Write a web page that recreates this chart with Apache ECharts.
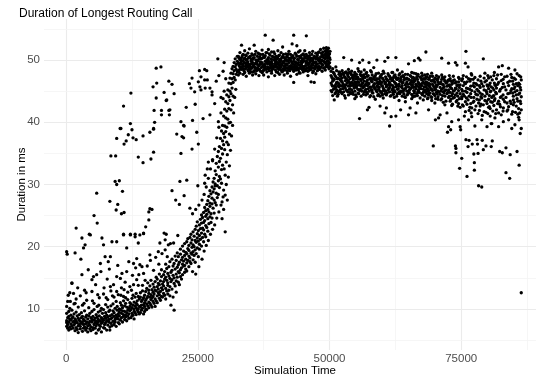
<!DOCTYPE html>
<html><head><meta charset="utf-8">
<script src="https://cdn.jsdelivr.net/npm/echarts@6/dist/echarts.min.js"></script>
<style>html,body{margin:0;padding:0;background:#fff}#c{width:542px;height:383px}</style>
</head><body><div id="c"></div>
<script>
const chartTitle = "Duration of Longest Routing Call";
const xTitle = "Simulation Time";
const yTitle = "Duration in ms";
const xTicks = [0, 25000, 50000, 75000];
const yTicks = [10, 20, 30, 40, 50];
const xMinorGrid = [12500, 37500, 62500, 87500];
const yMinorGrid = [5, 15, 25, 35, 45, 55];

// rows: [simulation time in thousands, duration (ms), duration (ms), ...]
const bandRows = [
[0.1,7.2,8.1,9.3,7.8,10.4],[0.3,6.9,8.6,7.5,11.2],[0.5,7.9,8.8,6.6,9.6],[0.7,7.1,8.3,10.1,12.6],[0.9,7.6,9.0,6.8,8.2],
[1.1,8.5,7.3,9.8,14.2],[1.3,6.9,7.9,8.7],[1.5,7.4,9.2,8.0,10.8],[1.7,6.5,8.4,7.7],[1.9,7.0,9.5,8.1,11.6],
[2.1,7.8,6.7,8.9],[2.3,7.3,8.5,10.3,6.2],[2.5,8.2,7.5,9.1],[2.7,6.8,8.0,7.2,12.1],[2.9,7.7,9.4,8.6],
[3.1,6.4,7.9,8.8,10.6],[3.3,7.5,8.3,6.9],[3.5,8.1,7.1,9.7,13.0],[3.7,6.6,8.7,7.6],[3.9,7.9,6.9,9.0,11.4],
[4.1,7.3,8.4,6.3],[4.3,8.9,7.7,10.2],[4.5,6.8,8.0,7.4,9.3],[4.7,8.6,7.1,6.5],[4.9,7.9,9.6,8.3,12.8],
[5.1,7.0,8.8,6.7],[5.3,8.2,7.5,9.9,10.9],[5.5,6.9,8.5,7.8],[5.7,7.3,9.1,8.0,6.1],[5.9,8.7,7.6,10.4],
[6.1,6.6,8.3,7.9,9.5],[6.3,7.4,8.9,6.8,11.8],[6.5,8.1,7.2,9.7],[6.7,6.3,8.6,7.7,10.1],[6.9,7.9,9.3,8.4],
[7.1,7.0,8.2,9.9,12.4],[7.3,8.8,7.5,6.9],[7.5,7.8,9.4,8.5,10.7],[7.7,6.6,8.1,9.0],[7.9,8.7,7.4,10.3,11.5],
[8.1,7.9,9.6,8.3],[8.3,7.1,8.9,9.8,6.6],[8.5,8.4,10.5,7.7,12.9],[8.7,9.1,7.3,8.6],[8.9,8.0,9.7,10.8],
[9.1,7.5,8.8,9.4,11.9],[9.3,8.3,10.1,7.9],[9.5,9.0,8.5,11.2,7.2],[9.7,8.7,9.8,10.4],[9.9,7.8,9.2,8.4,12.3],
[10.1,10.0,8.9,9.5,7.6],[10.3,8.2,9.9,11.0],[10.5,9.3,10.6,8.6,13.4],[10.7,7.9,9.7,10.2],[10.9,8.8,11.3,9.1,12.0],
[11.1,9.6,8.3,10.5],[11.3,10.9,9.0,8.7,11.8],[11.5,9.4,10.3,8.1],[11.7,8.9,11.5,9.8,12.7],[11.9,10.1,9.2,8.5],
[12.1,9.7,11.0,10.4,13.6],[12.3,8.6,9.9,10.8],[12.5,10.2,9.3,11.7,8.9],[12.7,9.0,10.6,12.2],[12.9,11.1,9.6,10.0,8.4],
[13.1,10.5,9.4,11.9],[13.3,9.1,10.9,12.5,10.2],[13.5,11.3,9.8,10.7],[13.7,10.0,12.0,9.5,13.8],[13.9,11.6,10.4,9.2],
[14.1,10.3,11.9,9.4,12.6],[14.3,9.8,11.2,10.6],[14.5,11.5,10.1,12.9,13.8],[14.7,10.7,9.2,11.8],[14.9,12.2,10.4,11.0,9.6],
[15.1,11.4,12.8,10.0],[15.3,10.8,13.3,11.7,9.9],[15.5,12.0,10.5,14.2],[15.7,11.1,12.5,10.2,13.0],[15.9,11.9,13.7,10.9],
[16.1,12.3,10.6,11.5,14.6],[16.3,13.1,11.8,10.3],[16.5,12.7,11.2,14.0,12.0],[16.7,10.9,13.5,12.4],[16.9,11.6,14.4,13.0,10.4],
[17.1,12.9,11.3,15.1],[17.3,13.6,12.1,11.0,14.8],[17.5,12.6,14.1,13.2],[17.7,11.7,15.6,12.3,13.9],[17.9,14.5,12.8,11.4],
[18.1,13.4,15.2,12.0,16.3],[18.3,14.0,11.9,13.1],[18.5,15.5,12.5,14.4,13.7],[18.7,12.2,16.0,14.8],[18.9,13.3,15.1,11.6,17.2],
[19.1,14.6,12.9,16.5],[19.3,13.8,15.7,12.4,14.2],[19.5,16.8,13.0,15.3],[19.7,14.9,12.1,17.6,13.6],[19.9,15.9,14.4,10.6],
[20.1,13.2,16.2,14.7,18.0],[20.3,15.4,11.9,16.9],[20.5,14.1,17.3,15.0,9.8],[20.7,16.4,13.7,18.5],[20.9,15.6,17.8,14.5,12.7],
[21.1,16.7,15.1,19.0],[21.3,14.3,17.1,16.0,18.4],[21.5,17.5,15.8,13.9],[21.7,16.3,18.8,15.2,19.6],[21.9,17.9,16.6,14.8],
[22.1,18.3,15.5,17.2,20.1],[22.3,16.9,19.3,17.7],[22.5,15.9,18.6,20.5,17.0],[22.7,19.1,16.4,18.0],[22.9,17.4,20.8,18.9,16.1],
[23.1,19.7,17.8,21.3],[23.3,18.5,16.8,20.2,19.4],[23.5,17.6,21.5,18.2],[23.7,20.6,19.0,17.3,22.0],[23.9,18.8,21.1,19.9],
[24.1,20.3,17.9,22.4,19.2],[24.3,21.7,18.6,20.0],[24.5,19.5,22.8,21.0,17.5],[24.7,20.7,18.9,23.3],[24.9,22.1,19.8,21.4,24.0],
[25.1,18.4,20.9,22.6],[25.3,21.8,23.5,19.6,20.4],[25.5,22.9,21.2,24.4],[25.7,20.1,23.8,22.2,25.1],[25.9,21.5,24.7,23.0],
[26.1,22.7,20.8,25.5,23.9],[26.3,24.2,22.0,26.3],[26.5,23.4,25.8,21.6,24.9],[26.7,26.8,23.1,25.2],[26.9,24.5,27.4,22.5,26.0],
[27.1,25.6,23.7,28.1],[27.3,27.0,24.8,26.5,29.0],[27.5,25.3,28.5,23.9],[27.7,26.9,29.6,24.6,27.8],[27.9,28.8,26.2,30.4],
[28.1,27.5,31.0,25.4,29.3],[28.3,30.1,27.1,32.2],[28.5,28.6,31.6,26.7,33.4],[28.7,29.8,34.5,27.9],[28.9,32.8,30.6,35.3,28.4],
[29.1,31.3,36.1,29.5,33.7],[29.3,34.2,37.4,30.9],[29.5,35.8,32.4,38.6,30.2],[29.6,24.5,27.2],[29.7,37.0,34.9,39.5,33.1],
[29.9,38.2,36.4,41.0,26.0,29.1],[30.1,39.4,35.6,42.1,37.6],[30.2,22.4,28.3,31.5],[30.3,40.7,38.5,43.3],[30.4,30.0,33.6],
[30.5,41.8,39.2,44.4,36.8],[30.6,27.5,34.8],[30.7,43.0,40.5,45.2],[30.8,31.2,36.4],[30.9,44.1,42.2,46.3,39.9],
[31.0,33.0,38.1],[31.1,45.0,43.5,47.1],[31.2,35.5,40.0],[31.3,46.2,44.6,47.9,42.0],[31.4,37.8],[31.5,47.0,45.5,48.6],
[31.6,39.5,42.8],[31.7,47.8,46.4,49.0,44.2],[31.8,41.5],[31.9,48.3,47.2,49.6],[32.0,44.0],[32.1,48.9,46.8,50.2],
[32.2,45.3],[32.3,49.3,47.7,48.5],[32.5,48.1,49.8,50.6]
];

// extra spread around the band edges
const spreadRows = [
[3.4,10.9],[5.0,11.3],[6.2,10.6],[7.6,11.8],[8.8,12.1],[9.6,12.8],[10.4,12.2],[11.0,13.1],[12.4,13.0],
[24.0,16.0,25.3],[24.6,15.6,26.0],[25.2,16.8,26.7],[25.8,18.0,27.5],[26.2,19.3,28.4],[26.6,20.2,29.6],
[27.0,21.0,31.0],[27.4,22.0,32.5],[27.8,22.8,34.0],[28.2,23.5,35.7],[28.6,24.6,37.5],[29.0,25.6,39.2],
[29.4,26.7,41.5],[29.8,28.0,43.8],[30.0,32.5,45.0],
[2.2,13.4],[3.8,12.6],[4.2,16.3],[5.6,13.9],[6.0,12.3],[6.6,16.0],[7.2,13.4],[7.8,14.8],[8.2,16.4],[9.0,13.9],
[9.8,17.0],[10.6,15.7],[11.2,14.3],[11.9,17.6],[12.6,15.4],[13.2,16.6],[13.8,15.5],[14.4,16.8],[15.0,14.6],[15.4,16.9],
[16.0,17.8],[16.6,16.2],[17.0,18.3],[17.6,17.2],[18.2,18.9],[18.8,19.5],[19.2,18.4],[19.8,20.5],[20.4,20.6],[21.2,21.8]
];

// scattered upper points [simulation time in thousands, duration ms]
const arcPoints = [
[0.1,19.2],[0.2,18.8],[1.9,23.0],[4.4,22.0],[5.3,25.0],[5.9,23.8],[5.8,28.6],[8.3,27.3],[9.8,26.8],[9.5,25.9],
[10.5,25.3],[11.0,25.5],[10.7,28.9],[10.9,22.0],[12.2,22.0],[13.1,22.0],[14.7,22.1],[15.1,23.2],[15.7,24.3],[15.7,25.6],
[15.9,26.1],[16.3,26.0],[18.6,22.2],[19.0,22.0],[9.3,30.5],[10.1,30.6],[9.6,30.0],[8.5,34.6],[9.4,34.6],[16.6,35.2],
[16.1,34.1],[14.6,33.5],[13.7,34.4],[10.25,39.0],[12.5,38.8],[16.6,38.9],[15.9,38.4],[11.8,38.0],[12.7,37.5],[13.3,37.2],
[9.6,37.4],[11.4,37.0],[11.0,36.5],[14.6,37.8],[17.1,48.7],[18.0,48.9],[19.5,46.6],[16.5,45.7],[17.2,46.3],[18.6,44.8],
[17.1,43.9],[19.0,43.5],[12.3,44.7],[10.9,42.6],[16.7,41.9],[18.1,41.9],[19.5,41.9],[18.1,41.2],[19.6,41.2],[12.2,39.8],
[10.4,39.0],[16.8,40.0],[16.6,39.0],[20.1,46.1],[19.1,43.6],[19.7,42.0],[21.8,40.1],[22.4,39.4],[24.5,42.9],[23.4,46.2],
[23.9,47.1],[23.7,45.5],[24.4,44.9],[25.3,48.3],[26.3,48.5],[26.7,48.3],[25.6,47.3],[26.3,46.8],[26.8,46.8],[25.1,46.5],
[25.4,45.7],[25.6,45.2],[26.4,45.5],[27.3,45.5],[27.7,44.9],[27.7,44.4],[28.8,50.2],[21.0,38.1],[22.0,37.7],[22.3,37.5],
[24.8,38.4],[22.3,39.5],[21.8,35.0],[23.9,35.7],[25.1,36.5],[21.6,30.5],[22.9,30.7],[20.1,29.0],[20.8,27.5],[21.5,26.8],
[23.5,26.2],[22.4,28.2],[27.0,33.6],[27.8,33.8],[26.8,32.5],[26.4,31.5],[25.0,29.8],[26.3,30.2],[28.3,29.8],
[3.0,21.4],[4.6,21.9],[6.8,21.4],[7.1,20.3],[8.7,20.8],[9.6,20.8],[10.9,21.9],[12.2,21.9],[13.1,21.6],[13.7,20.6],
[14.0,21.9],[14.7,22.2],[1.7,19.0],[3.3,19.8],[3.6,20.3],[2.8,18.0],[6.5,17.3],[7.4,18.4],[8.4,18.4],[8.0,17.6],
[11.5,19.8],[12.8,17.3],[13.4,18.1],[14.0,17.1],[15.9,18.7],[17.5,19.2],[17.8,20.6],[18.8,21.1],[19.4,20.3],
[1.1,14.1],[1.4,12.5],[0.4,12.2],[0.8,11.2],[1.7,10.9],[3.0,15.5],[5.2,15.2],[5.8,15.5],[4.9,14.7],
[8.4,13.6],[9.6,15.2],[10.3,14.9],[11.5,16.0],[13.4,14.7],[14.7,15.7],[12.8,13.9],[28.9,40.1],[29.4,44.0],[28.5,46.6],
[29.0,47.5],[29.8,48.2],[30.3,47.0],[30.0,49.6],[28.2,43.0],[27.3,41.2],[26.0,40.6],[24.0,40.3],[20.5,44.6],[22.8,42.4]
];

const plateauRows = [
[32.7,49.5,48.2,50.6,47.6],[33.0,48.9,50.1,49.4,47.9,51.2],[33.3,49.8,48.5,50.4,52.4],[33.6,47.7,49.1,50.9,48.6,49.9],
[33.9,50.3,48.0,49.6,51.5],[34.2,48.8,49.3,50.7,47.4,50.0],[34.5,49.7,48.4,51.1,49.0],[34.8,50.5,47.9,49.2,48.7,51.8],
[35.1,49.4,50.2,48.1,49.9],[35.4,47.6,49.6,50.8,48.9,50.1],[35.7,49.0,52.4,48.3,50.4],[36.0,51.4,49.5,48.6,50.0,47.8],
[36.3,48.8,50.6,49.3,49.8],[36.6,50.2,47.5,49.1,51.0,48.5],[36.9,49.7,48.2,50.9,49.4],[37.2,48.0,50.3,49.6,51.6,48.9],
[37.5,47.6,49.2,50.5,48.4],[37.8,50.7,49.0,54.0,48.7,49.8],[38.1,49.5,51.2,48.1,50.0],[38.4,48.6,49.9,47.3,50.4,51.7],
[38.7,49.3,48.8,50.8,49.6],[39.0,50.1,48.3,49.7,51.3,47.9],[39.3,53.2,49.0,50.5,48.6],[39.6,48.9,50.2,49.4,47.5,51.0],
[39.9,49.8,48.1,50.6,49.2],[40.2,51.5,48.7,49.5,50.3,48.0],[40.5,49.1,50.8,47.7,49.9],[40.8,48.4,50.0,51.2,49.3,48.9],
[41.1,50.6,49.7,48.2,52.1],[41.4,49.0,48.5,50.4,47.6,49.8],[41.7,51.0,49.4,48.8,50.1],[42.0,48.3,49.9,50.7,49.2,47.9],
[42.3,50.3,48.6,51.4,49.6],[42.6,49.1,47.4,50.0,48.7,50.9],[42.9,48.9,50.5,49.5,52.6],[43.2,54.0,49.8,48.2,50.2,46.4],
[43.5,49.3,51.1,48.5,49.7],[43.8,52.3,48.8,50.6,49.0,47.7],[44.1,50.0,48.4,49.6,51.3],[44.4,51.5,49.2,47.9,50.4,48.7],
[44.7,48.6,50.8,49.4,49.9],[45.0,49.7,48.1,51.0,50.2,48.9],[45.3,51.5,49.0,48.3,50.5],[45.6,53.9,49.5,50.9,48.6,49.8],
[45.9,48.2,50.1,49.3,47.5],[46.2,50.7,48.8,49.6,51.2,48.4],[46.5,46.5,49.1,50.3,48.5],[46.8,49.8,51.4,48.0,50.0,49.2],
[47.1,46.4,50.6,48.7,49.5],[47.4,50.2,48.9,51.1,49.7,47.8],[47.7,49.4,50.8,48.3,50.4],[48.0,51.3,49.0,50.1,48.6,49.9],
[48.3,50.5,48.8,51.7,49.6],[48.6,49.3,51.0,48.2,50.7,50.0],[48.9,51.9,49.8,50.4,48.7],[49.2,50.9,49.5,51.4,48.4,50.2],
[49.4,52.0,50.6,49.1,51.1],[49.6,51.4,49.9,50.8,48.9,51.6],[49.8,50.3,49.2,51.9,50.7],[50.0,49.6,51.0,48.8,50.4],
[32.85,49.1,50.3,48.4],[33.15,50.0,48.7,49.6],[33.45,48.9,50.7,49.3],[33.75,49.5,48.3,50.2],[34.05,50.8,49.0,48.6],
[34.35,48.9,50.1,49.6],[34.65,50.4,48.2,49.3],[34.95,49.0,50.6,48.5],[35.25,48.7,49.7,51.0],[35.55,50.3,49.2,48.1],
[35.85,49.4,50.9,48.8],[36.15,48.3,50.0,49.6],[36.45,49.9,48.6,51.1],[36.75,50.5,49.3,48.4],[37.05,48.8,50.2,49.5],
[37.35,50.9,49.1,48.2],[37.65,49.3,50.4,48.8],[37.95,48.5,49.8,51.2],[38.25,50.1,48.9,49.4],[38.55,49.6,51.0,48.3],
[38.85,48.7,50.2,49.1],[39.15,50.6,49.4,48.6],[39.45,49.0,50.0,51.3],[39.75,48.4,49.7,50.5],[40.05,50.2,48.9,49.5],
[40.35,49.3,50.7,48.5],[40.65,48.8,50.1,49.7],[40.95,50.4,49.2,48.1],[41.25,49.5,48.6,50.9],[41.55,50.0,49.1,48.4],
[41.85,48.7,50.5,49.4],[42.15,49.9,48.8,51.0],[42.45,50.2,49.0,48.3],[42.75,48.6,49.8,50.4],[43.05,50.7,49.3,48.5],
[43.35,49.0,50.3,48.8],[43.65,48.4,49.6,50.9],[43.95,50.1,49.4,48.7],[44.25,49.2,50.6,48.0],[44.55,50.5,48.9,49.7],
[44.85,49.0,50.2,48.5],[45.15,48.6,49.9,50.8],[45.45,50.3,49.1,48.3],[45.75,49.6,48.7,50.6],[46.05,48.9,50.4,49.3],
[46.35,50.0,48.5,49.8],[46.65,49.4,50.9,48.8],[46.95,48.2,49.7,50.3],[47.25,50.4,49.0,48.6],[47.55,49.3,50.6,48.9],
[47.85,48.7,50.0,51.2],[48.15,50.2,49.5,48.5],[48.45,49.8,51.1,48.9],[48.75,50.5,49.2,51.3],[49.05,49.7,50.8,48.8],
[49.3,50.4,51.5,49.6],[49.5,49.3,50.9,51.8],[49.7,50.6,49.8,51.2],[49.9,49.5,50.9,48.6],[50.1,50.1,48.9,51.4]
];

const stepRows = [
[50.3,46.3,47.5,45.1,48.2],[50.6,45.8,44.3,47.0,46.6,48.6],[50.9,43.6,45.4,46.9,47.8],[51.2,46.1,44.8,47.3,45.6,48.9],
[51.5,47.0,45.0,46.4,44.2],[51.8,45.7,47.7,46.2,48.1,44.9],[52.1,46.8,45.3,47.4,45.9],[52.4,44.6,46.5,48.3,45.8,47.1],
[52.7,50.4,46.0,44.9,47.6],[53.0,45.5,47.2,46.7,43.9,48.0],[53.3,46.3,45.1,47.9,46.9],[53.6,44.4,46.6,45.8,48.5,47.3],
[53.9,47.0,45.4,46.1,44.8],[54.2,50.0,46.4,47.6,45.2,48.2],[54.5,45.9,47.1,44.5,46.8],[54.8,46.5,48.0,45.0,47.4,43.8],
[55.1,44.1,46.2,47.7,45.6],[55.4,47.2,45.3,46.9,48.6,44.7],[55.7,40.6,49.6,46.0,45.1],[56.0,45.8,47.5,44.2,46.7,48.1],
[56.3,50.0,46.3,45.5,47.0],[56.6,44.9,46.6,48.4,45.7,47.3],[56.9,46.1,44.4,47.8,45.3],[57.2,42.0,46.8,45.9,47.4,44.6],
[57.5,42.4,49.6,46.2,45.0],[57.8,47.1,45.6,44.3,46.9,48.3],[58.1,45.2,46.5,47.6,44.8],[58.4,46.0,44.1,47.2,45.7,48.8],
[58.7,45.4,46.8,43.7,47.5],[59.0,50.0,46.3,44.9,45.8,47.0],[59.3,44.5,46.1,47.9,45.3],[59.6,42.6,46.6,45.0,47.3,44.2],
[59.9,45.9,47.7,44.7,46.4],[60.2,46.9,45.5,43.9,48.2,45.1],[60.5,41.5,49.8,46.2,44.6],[60.8,42.3,45.7,47.0,46.0,44.4],
[61.1,50.4,45.2,46.7,47.8],[61.4,39.4,44.9,46.4,45.6,47.4],[61.7,40.9,46.0,44.3,47.1],[62.0,45.4,46.8,48.0,44.8,45.9],
[62.3,46.5,44.0,47.5,45.1],[62.6,50.4,41.0,46.2,45.7,47.2],[62.9,44.6,46.9,45.3,48.4],[63.2,46.1,43.5,45.8,47.6,44.9],
[63.5,42.0,46.6,45.0,47.0],[63.8,45.5,44.2,46.3,48.1,45.9],[64.1,47.3,45.2,44.6,46.8],[64.4,44.0,46.0,47.7,45.4,43.3],
[64.7,46.5,45.0,47.1,44.4],[65.0,41.2,49.4,45.7,46.9,44.8],[65.3,42.3,46.2,45.3,47.5],[65.6,44.5,46.7,45.9,48.0,43.8],
[65.9,45.6,47.2,44.1,46.4],[66.1,49.9,45.0,46.6,44.7,47.0],[66.4,41.5,46.1,45.4,47.8],[66.7,43.1,45.8,46.9,44.3,47.4],
[66.9,50.3,45.2,46.3,44.9],[67.2,50.0,46.0,47.3,45.5,43.9],[67.5,44.6,46.8,45.9,47.9],[67.8,45.3,43.6,46.4,47.0,44.8],
[68.1,46.2,45.0,47.6,44.2],[68.3,51.3,45.7,46.5,44.9,47.2],[68.6,43.8,46.0,45.4,47.7],[68.8,42.0,46.9,45.1,44.4,46.3],
[69.1,45.6,47.4,44.7,46.1],[69.4,44.0,46.6,45.3,47.9,43.5],[69.7,36.2,45.9,44.6,46.8],[70.0,45.2,47.1,44.3,46.4,43.1],
[70.1,40.4],[70.3,46.0,44.8,45.7,47.5],[70.6,43.7,46.5,45.0,44.1,47.0],[70.7,40.7],[71.0,41.2,45.6,46.2,44.5],
[71.3,50.3,45.3,43.8,46.9,47.6],[71.6,44.9,46.0,45.5,43.2],[71.9,46.6,44.2,47.3,45.1,42.8],[72.3,41.5,45.8,44.6,46.4],
[72.4,38.4],[72.6,39.3,49.5,45.2,46.8,44.0],[72.9,43.4,45.7,47.0,44.8],[73.0,38.8],[73.2,40.1,46.1,44.3,45.4,42.7],
[73.5,45.0,46.7,43.9,47.4],[73.9,36.2,49.6,45.5,44.4,46.3],[74.0,35.8,35.1],[74.2,49.2,43.5,45.9,44.7],
[74.5,40.4,46.5,45.1,43.0,47.2],[74.7,32.6],[74.8,39.3,44.6,46.0,42.4],[74.9,38.8],
[50.45,46.0,47.2,44.9],[50.75,45.3,46.8,48.0],[51.05,47.5,45.8,44.6],[51.35,46.4,48.3,45.2],[51.65,45.9,47.1,44.5],
[51.95,46.9,45.1,48.0],[52.25,44.8,46.6,47.7],[52.55,46.2,45.4,47.9],[52.85,47.3,45.7,44.3],[53.15,46.0,48.1,45.2],
[53.45,44.9,46.7,47.6],[53.75,46.4,45.3,48.0],[54.05,47.8,45.9,44.6],[54.35,46.3,44.8,47.2],[54.65,45.5,47.6,46.1],
[54.95,47.0,44.4,45.8],[55.25,45.9,47.3,46.5],[55.55,44.6,46.4,48.2],[55.85,46.9,45.3,47.7],[56.15,45.0,46.2,47.4],
[56.45,47.6,45.8,44.5],[56.75,46.0,47.2,45.1],[57.05,44.8,46.5,48.0],[57.35,46.3,45.4,47.5],[57.65,45.7,47.0,44.1],
[57.95,46.6,45.2,48.1],[58.25,44.7,46.9,45.8],[58.55,47.3,45.5,46.2],[58.85,45.1,46.8,47.8],[59.15,46.5,44.3,45.7],
[59.45,47.0,45.6,46.3],[59.75,44.9,46.2,47.5],[60.05,45.8,47.1,44.4],[60.35,46.6,45.3,47.9],[60.65,45.0,46.4,47.3],
[60.95,46.8,44.7,45.9],[61.25,45.4,47.5,46.1],[61.55,44.2,46.0,47.0],[61.85,46.7,45.2,48.0],[62.15,45.6,47.2,44.5],
[62.45,46.3,44.9,47.6],[62.75,45.9,46.9,44.2],[63.05,47.1,45.4,46.0],[63.35,44.6,46.6,47.8],[63.65,45.7,47.3,44.9],
[63.95,46.4,45.0,47.5],[64.25,45.3,46.9,44.1],[64.55,47.0,45.6,46.2],[64.85,44.5,46.1,47.7],[65.15,46.8,45.2,44.8],
[65.45,45.5,47.4,46.4],[65.75,44.3,46.0,47.1],[66.0,46.5,45.1,47.9],[66.25,45.7,44.2,46.8],[66.55,47.2,45.9,44.6],
[66.8,45.0,46.5,47.7],[67.05,46.2,44.8,45.6],[67.35,45.4,47.1,46.0],[67.65,44.4,46.3,47.5],[67.95,46.9,45.7,44.9],
[68.2,45.2,47.0,46.1],[68.45,44.6,46.4,47.3],[68.7,46.0,45.0,43.9],[68.95,47.1,44.7,45.8],[69.25,45.3,46.7,44.1],
[69.55,46.1,45.1,47.4],[69.85,44.5,46.6,45.6],[70.15,47.0,45.3,43.8],[70.45,45.9,44.6,46.8],[70.75,44.9,46.2,47.3],
[71.15,46.5,45.0,43.6],[71.45,44.3,46.1,47.2],[71.75,45.7,44.7,46.9],[72.1,46.3,45.2,43.4],[72.45,44.8,46.7,45.9],
[72.75,46.0,44.2,47.5],[73.05,45.5,43.7,46.6],[73.35,44.6,46.3,42.9],[73.7,46.8,45.1,44.0],[74.05,45.4,43.3,46.5],
[74.35,44.2,46.0,42.6],[74.65,45.6,43.8,47.0]
];

const tailRows = [
[75.1,34.2,45.3,43.8,46.7,44.1],[75.4,42.6,45.9,47.5,44.5],[75.8,49.5,43.3,46.2,45.0,41.7],[75.9,51.4,37.2],
[76.1,31.3,44.8,46.5,42.9],[76.3,48.9,36.1,45.4,43.6],[76.4,40.4,47.0],[76.5,37.1,44.2,41.9],[76.8,45.8,43.0,46.9,44.6],
[77.0,40.9,45.1,42.3,47.6],[77.1,36.5],[77.4,34.9,44.0,46.3,43.4],[77.5,33.5,32.3,45.7],[77.6,39.4,44.9,42.0,47.2],
[78.0,37.2,46.0,43.7,45.3],[78.1,36.5,44.4],[78.2,35.0,41.4,46.8],[78.3,29.8,45.0,43.1],[78.6,44.7,47.4,42.6,45.6],
[78.9,29.6,40.4,46.2,43.9],[79.0,37.1,44.5,41.1],[79.2,50.2,35.6,45.8,42.8],[79.5,43.5,46.5,44.2,47.9],[79.7,36.2,45.1,41.6],
[79.9,39.3,43.0,46.0,44.6],[80.2,42.4,45.4,47.1,43.7],[80.5,44.9,41.0,46.3,42.2],[80.7,36.1,39.8,45.7],[80.8,39.8,44.0],
[80.9,37.0,46.8,43.2],[81.2,45.2,42.7,47.5,44.3],[81.4,40.7,46.0,43.8],[81.7,42.0,45.5,44.6,47.0],[82.1,48.9,39.3,46.4,43.4,41.5],
[82.3,35.3,45.0,42.9],[82.6,44.1,46.7,41.2,47.7],[82.8,49.1,35.1,45.6],[83.0,40.1,43.7,46.2,42.3],[83.5,31.9,35.9,45.2,44.0],
[83.7,47.4,41.8,43.1],[84.0,48.7,40.4,45.9,42.5],[84.2,31.0,44.7,46.6],[84.3,34.8,43.4],[84.6,39.0,45.4,41.3,47.2],
[84.9,44.2,46.1,42.8,43.6],[85.2,48.4,39.6,45.7,44.9],[85.3,41.6,46.9],[85.6,35.3,43.8,45.1,47.8],[85.9,42.2,44.5,46.3,40.8],
[86.0,33.1,40.4,47.5],[86.2,43.4,45.6,38.2],[86.4,46.8,39.0,44.1,42.0,12.6],
[75.25,45.0,42.8,47.0],[75.6,44.2,46.4,41.0],[76.0,43.9,47.3,45.5],[76.65,45.3,42.4,46.6],[76.9,44.0,47.8,41.5],
[77.25,45.9,43.2,46.9],[77.8,44.5,42.6,46.2],[78.45,43.6,45.9,41.9],[78.75,46.6,44.1,42.9],[79.35,45.2,41.7,47.1],
[79.8,43.4,46.7,44.9],[80.05,45.8,41.4,47.5],[80.35,44.3,46.0,42.5],[80.6,43.3,47.3,45.0],[81.0,41.8,45.5,44.2],
[81.3,46.3,43.5,48.0],[81.55,44.8,41.4,45.9],[81.9,43.0,46.1,47.6],[82.45,45.3,42.5,44.0],[82.95,46.9,44.4,41.8],
[83.25,43.3,45.7,47.3],[83.85,44.6,46.4,42.0],[84.45,45.1,43.0,47.7],[84.75,46.6,41.7,44.7],[85.05,43.2,45.4,47.1],
[85.45,44.4,46.2,42.6],[85.75,45.9,41.3,43.4],[86.1,44.7,46.1,41.5],[86.3,43.0,45.2,47.3]
];

function fromRows(rows) {
  const out = [];
  rows.forEach(r => { for (let i = 1; i < r.length; i++) out.push([r[0] * 1000, r[i]]); });
  return out;
}
const points = fromRows(bandRows)
  .concat(fromRows(spreadRows))
  .concat(arcPoints.map(p => [p[0] * 1000, p[1]]))
  .concat(fromRows(plateauRows), fromRows(stepRows), fromRows(tailRows));

const FONT = '"Liberation Sans", Arial, Helvetica, sans-serif';
const majorStyle = { color: '#ebebeb', width: 1.1, type: 'solid' };
const minorStyle = { color: '#f4f4f4', width: 0.8, type: 'solid' };
const gridLines = []
  .concat(xTicks.map(v => ({ xAxis: v, lineStyle: majorStyle })))
  .concat(xMinorGrid.map(v => ({ xAxis: v, lineStyle: minorStyle })))
  .concat(yTicks.map(v => ({ yAxis: v, lineStyle: majorStyle })))
  .concat(yMinorGrid.map(v => ({ yAxis: v, lineStyle: minorStyle })));

const chart = echarts.init(document.getElementById('c'), null, { renderer: 'canvas' });
chart.setOption({
  animation: false,
  backgroundColor: '#ffffff',
  textStyle: { fontFamily: FONT },
  title: {
    text: chartTitle, left: 14, top: 3,
    textStyle: { fontFamily: FONT, fontSize: 12, fontWeight: 'normal', color: '#000' }
  },
  grid: { left: 44, right: 6, top: 19, bottom: 33, containLabel: false },
  xAxis: {
    type: 'value', min: -4200, max: 89200,
    axisLine: { show: false }, axisTick: { show: false }, splitLine: { show: false },
    axisLabel: { customValues: xTicks, color: '#4d4d4d', fontSize: 11.5, margin: 3, fontFamily: FONT,
      formatter: v => String(v) }
  },
  yAxis: {
    type: 'value', min: 3.4, max: 56.6,
    axisLine: { show: false }, axisTick: { show: false }, splitLine: { show: false },
    axisLabel: { customValues: yTicks, color: '#4d4d4d', fontSize: 11.5, margin: 4, fontFamily: FONT }
  },
  graphic: [
    { type: 'text', left: 254, top: 365, z: 5, style: { text: xTitle, font: '11.5px ' + FONT, fill: '#000' } },
    { type: 'text', x: 16, y: 184.5, rotation: Math.PI / 2, z: 5,
      style: { text: yTitle, font: '11.5px ' + FONT, fill: '#000', align: 'center', verticalAlign: 'top' } }
  ],
  series: [
    { type: 'scatter', data: [], silent: true, z: 0, zlevel: 0,
      markLine: { silent: true, z: 0, symbol: 'none', label: { show: false }, animation: false, data: gridLines } },
    { type: 'scatter', data: points, symbolSize: 3.3, z: 10, zlevel: 0,
      itemStyle: { color: '#000', opacity: 1 }, silent: true }
  ]
});
</script>
</body></html>
